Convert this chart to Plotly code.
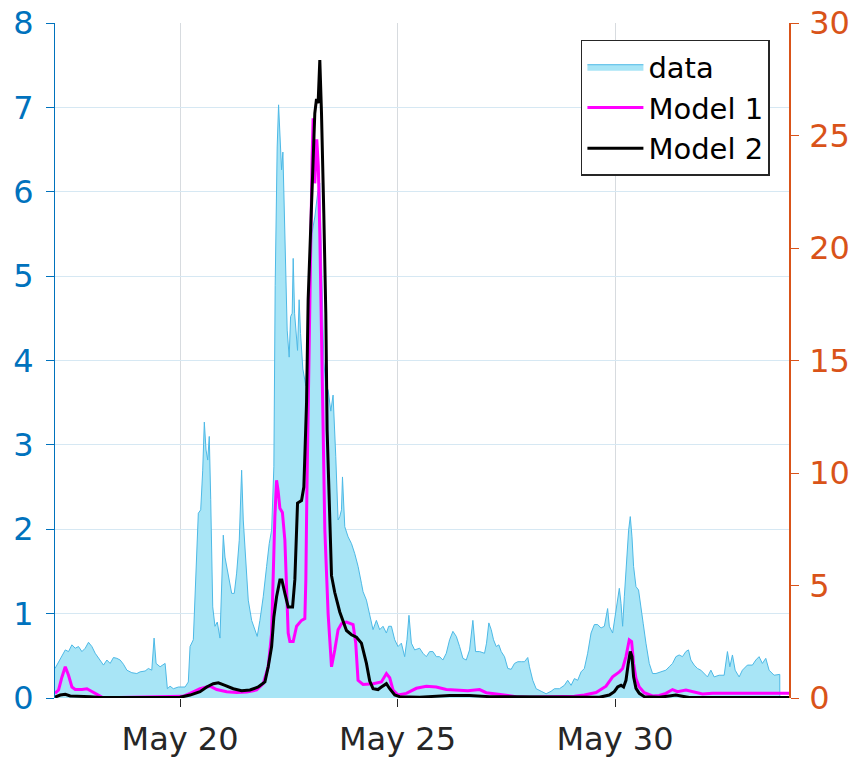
import pandas as pd
import plotly.graph_objects as go

base = pd.Timestamp("2020-05-20")

# data: days relative to May 20 00:00, values (left axis units)
data_day = [-2.875, -2.793, -2.639, -2.564, -2.486, -2.410, -2.334, -2.256, -2.180, -2.105,
            -2.027, -1.951, -1.875, -1.760, -1.682, -1.607, -1.531, -1.453, -1.377, -1.301,
            -1.223, -1.109, -0.994, -0.918, -0.803, -0.728, -0.650, -0.597, -0.551, -0.459,
            -0.344, -0.291, -0.230, -0.154, -0.039, 0.115, 0.190, 0.230, 0.305, 0.344,
            0.420, 0.475, 0.521, 0.558, 0.597, 0.636, 0.672, 0.705, 0.751, 0.803,
            0.856, 0.918, 0.957, 0.994, 1.033, 1.072, 1.132, 1.187, 1.246, 1.301,
            1.361, 1.416, 1.453, 1.508, 1.568, 1.646, 1.721, 1.774, 1.836, 1.912,
            1.990, 2.050, 2.105, 2.157, 2.187, 2.233, 2.265, 2.295, 2.334, 2.364,
            2.387, 2.426, 2.463, 2.509, 2.541, 2.578, 2.601, 2.633, 2.662, 2.701,
            2.738, 2.770, 2.823, 2.892, 2.961, 3.030, 3.098, 3.167, 3.213, 3.259,
            3.305, 3.351, 3.404, 3.466, 3.518, 3.580, 3.633, 3.672, 3.711, 3.734,
            3.787, 3.863, 3.941, 4.017, 4.093, 4.170, 4.207, 4.285, 4.361, 4.437,
            4.514, 4.590, 4.666, 4.744, 4.797, 4.859, 4.935, 5.011, 5.088, 5.164,
            5.217, 5.263, 5.318, 5.394, 5.508, 5.584, 5.662, 5.738, 5.814, 5.892,
            5.967, 6.043, 6.121, 6.197, 6.273, 6.351, 6.427, 6.503, 6.580, 6.656,
            6.732, 6.794, 6.886, 7.000, 7.046, 7.099, 7.154, 7.207, 7.269, 7.329,
            7.384, 7.459, 7.535, 7.613, 7.689, 7.765, 7.843, 7.918, 7.994, 8.033,
            8.109, 8.187, 8.302, 8.416, 8.531, 8.607, 8.722, 8.836, 8.912, 8.990,
            9.066, 9.142, 9.220, 9.295, 9.371, 9.449, 9.525, 9.601, 9.679, 9.755,
            9.830, 9.869, 9.945, 10.023, 10.099, 10.138, 10.175, 10.214, 10.267, 10.313,
            10.351, 10.390, 10.427, 10.482, 10.541, 10.596, 10.649, 10.711, 10.787, 10.863,
            10.941, 11.055, 11.170, 11.246, 11.322, 11.400, 11.475, 11.551, 11.629, 11.689,
            11.744, 11.820, 11.896, 11.974, 12.050, 12.126, 12.204, 12.279, 12.394, 12.509,
            12.585, 12.640, 12.700, 12.762, 12.854, 12.929, 13.044, 13.159, 13.237, 13.312,
            13.388, 13.466, 13.542, 13.657, 13.788, 13.789]
data_val = [0.35, 0.43, 0.57, 0.55, 0.63, 0.59, 0.61, 0.55, 0.59, 0.66,
            0.61, 0.53, 0.47, 0.39, 0.45, 0.41, 0.48, 0.47, 0.45, 0.40,
            0.33, 0.30, 0.29, 0.31, 0.32, 0.35, 0.33, 0.71, 0.41, 0.37,
            0.41, 0.11, 0.14, 0.11, 0.13, 0.13, 0.19, 0.61, 0.69, 1.24,
            2.19, 2.23, 2.70, 3.27, 2.94, 2.82, 3.10, 2.35, 1.08, 0.85,
            0.90, 0.71, 1.32, 1.93, 1.67, 1.56, 1.40, 1.24, 1.24, 1.48,
            1.87, 2.70, 2.11, 1.67, 1.16, 0.92, 0.81, 0.73, 0.92, 1.20,
            1.56, 1.83, 1.99, 2.74, 4.89, 6.53, 7.03, 6.75, 6.26, 6.47,
            5.98, 5.07, 4.36, 4.04, 4.52, 4.56, 5.21, 4.56, 4.32, 4.12,
            4.72, 4.32, 3.90, 3.70, 4.50, 5.50, 5.70, 6.00, 6.10, 5.20,
            4.00, 3.70, 3.65, 3.40, 3.59, 2.86, 2.11, 2.15, 2.23, 2.62,
            2.03, 1.91, 1.83, 1.71, 1.56, 1.36, 1.26, 1.16, 1.00, 0.81,
            0.92, 0.81, 0.85, 0.77, 0.85, 0.85, 0.69, 0.61, 0.65, 0.49,
            0.69, 0.98, 0.65, 0.57, 0.59, 0.53, 0.49, 0.55, 0.55, 0.49,
            0.49, 0.45, 0.53, 0.69, 0.79, 0.73, 0.61, 0.47, 0.45, 0.57,
            0.92, 0.55, 0.55, 0.53, 0.65, 0.89, 0.81, 0.69, 0.61, 0.63,
            0.55, 0.49, 0.35, 0.34, 0.41, 0.43, 0.43, 0.43, 0.48, 0.37,
            0.21, 0.11, 0.08, 0.05, 0.08, 0.11, 0.11, 0.15, 0.21, 0.15,
            0.23, 0.21, 0.31, 0.35, 0.53, 0.77, 0.87, 0.87, 0.83, 0.85,
            1.06, 0.85, 0.77, 1.04, 1.30, 1.12, 0.85, 1.20, 1.67, 1.99,
            2.15, 1.91, 1.56, 1.32, 1.28, 1.04, 0.88, 0.65, 0.41, 0.29,
            0.29, 0.31, 0.33, 0.37, 0.41, 0.49, 0.51, 0.49, 0.55, 0.57,
            0.45, 0.39, 0.35, 0.33, 0.29, 0.25, 0.33, 0.25, 0.27, 0.27,
            0.55, 0.37, 0.51, 0.33, 0.25, 0.33, 0.39, 0.39, 0.45, 0.49,
            0.41, 0.47, 0.33, 0.27, 0.28, 0.0]

# Model 1
m1_day = [-2.875, -2.793, -2.715, -2.639, -2.564, -2.486, -2.410, -2.256, -2.141, -2.027,
          -1.912, -1.797, -1.698, 0.062, 0.230, 0.459, 0.689, 0.842, 1.072, 1.301,
          1.531, 1.760, 1.912, 2.027, 2.105, 2.141, 2.180, 2.219, 2.256, 2.295,
          2.353, 2.410, 2.449, 2.486, 2.525, 2.601, 2.679, 2.793, 2.869, 2.892,
          2.915, 2.945, 2.972, 3.007, 3.036, 3.059, 3.098, 3.144, 3.179, 3.213,
          3.252, 3.289, 3.328, 3.404, 3.482, 3.557, 3.633, 3.711, 3.826, 3.978,
          4.039, 4.092, 4.207, 4.437, 4.629, 4.744, 4.820, 4.896, 5.011, 5.203,
          5.433, 5.662, 5.892, 6.121, 6.351, 6.617, 6.886, 7.039, 7.269, 7.498,
          7.728, 8.033, 8.722, 9.066, 9.295, 9.564, 9.793, 9.945, 10.099, 10.175,
          10.252, 10.328, 10.381, 10.427, 10.482, 10.558, 10.673, 10.863, 11.017, 11.170,
          11.322, 11.437, 11.630, 11.781, 12.011, 12.240, 14.000]
m1_val = [0.055, 0.095, 0.25, 0.37, 0.27, 0.13, 0.10, 0.10, 0.11, 0.075,
          0.035, 0.01, 0.004, 0.02, 0.055, 0.11, 0.14, 0.10, 0.075, 0.065,
          0.07, 0.095, 0.17, 0.37, 0.77, 1.56, 2.15, 2.58, 2.45, 2.25,
          2.20, 1.87, 1.32, 0.77, 0.67, 0.67, 0.85, 0.92, 0.94, 1.40,
          2.40, 3.50, 4.50, 5.60, 6.40, 6.87, 6.10, 6.62, 6.30, 5.50,
          4.20, 3.00, 2.00, 1.00, 0.37, 0.57, 0.81, 0.88, 0.90, 0.87,
          0.65, 0.21, 0.16, 0.17, 0.19, 0.29, 0.24, 0.095, 0.035, 0.055,
          0.115, 0.14, 0.13, 0.10, 0.095, 0.087, 0.10, 0.063, 0.047, 0.035,
          0.016, 0.01, 0.015, 0.02, 0.035, 0.065, 0.14, 0.25, 0.31, 0.35,
          0.49, 0.69, 0.67, 0.41, 0.23, 0.13, 0.063, 0.024, 0.03, 0.055,
          0.10, 0.075, 0.095, 0.075, 0.047, 0.055, 0.055]

# Model 2
m2_day = [-2.875, -2.754, -2.639, -2.525, -2.066, -1.836, 0.0, 0.230, 0.459, 0.613,
          0.764, 0.879, 1.033, 1.223, 1.416, 1.607, 1.797, 1.951, 2.027, 2.105,
          2.157, 2.219, 2.295, 2.341, 2.410, 2.486, 2.587, 2.639, 2.701, 2.793,
          2.846, 2.908, 2.945, 3.023, 3.098, 3.137, 3.174, 3.213, 3.252, 3.305,
          3.351, 3.381, 3.443, 3.482, 3.557, 3.672, 3.826, 3.941, 4.056, 4.170,
          4.285, 4.361, 4.437, 4.551, 4.629, 4.744, 4.820, 4.935, 5.049, 5.508,
          6.197, 6.656, 7.115, 8.722, 9.640, 9.869, 9.983, 10.060, 10.138, 10.197,
          10.252, 10.305, 10.351, 10.390, 10.427, 10.482, 10.558, 10.673, 11.017, 11.246,
          11.400, 11.515, 11.705, 14.000]
m2_val = [0.01, 0.035, 0.043, 0.024, 0.016, 0.006, 0.008, 0.035, 0.075, 0.13,
          0.17, 0.18, 0.15, 0.11, 0.087, 0.095, 0.13, 0.19, 0.37, 0.61,
          0.96, 1.20, 1.40, 1.40, 1.24, 1.08, 1.08, 1.40, 2.31, 2.34,
          2.50, 3.50, 4.72, 5.90, 6.93, 7.10, 7.05, 7.56, 6.93, 5.74,
          4.56, 3.18, 1.99, 1.45, 1.25, 1.02, 0.80, 0.75, 0.72, 0.65,
          0.41, 0.20, 0.11, 0.10, 0.13, 0.17, 0.11, 0.035, 0.016, 0.01,
          0.03, 0.03, 0.016, 0.008, 0.008, 0.035, 0.075, 0.13, 0.15, 0.13,
          0.21, 0.41, 0.55, 0.49, 0.25, 0.115, 0.055, 0.016, 0.008, 0.024,
          0.035, 0.024, 0.005, 0.005]

x_range_day = [-2.875, 14.0]
tick_days = [0, 5, 10]
tick_labels = ["May 20", "May 25", "May 30"]
left_range = [0, 8]
right_range = [0, 30]
left_ticks = [0, 1, 2, 3, 4, 5, 6, 7, 8]
right_ticks = [0, 5, 10, 15, 20, 25, 30]


def to_time(days):
    return [base + pd.Timedelta(days=d) for d in days]


BLUE = "rgb(0,114,189)"
ORANGE = "rgb(217,83,25)"
FONT = "DejaVu Sans"

fig = go.Figure()
fig.add_trace(go.Scatter(
    x=to_time(data_day), y=data_val, name="data", mode="lines",
    fill="tozeroy", line=dict(color="rgb(77,185,230)", width=1),
    fillcolor="rgb(168,229,246)"))
fig.add_trace(go.Scatter(
    x=to_time(m1_day), y=m1_val, name="Model 1", mode="lines",
    line=dict(color="#FF00FF", width=3)))
fig.add_trace(go.Scatter(
    x=to_time(m2_day), y=m2_val, name="Model 2", mode="lines",
    line=dict(color="black", width=3)))
fig.add_trace(go.Scatter(
    x=to_time([0]), y=[None], yaxis="y2", showlegend=False,
    hoverinfo="skip", mode="lines"))

fig.update_layout(
    width=856, height=762,
    margin=dict(l=55, r=67, t=23, b=64, autoexpand=False),
    paper_bgcolor="white", plot_bgcolor="white",
    font=dict(family=FONT, size=32, color="rgb(38,38,38)"),
    showlegend=True,
    legend=dict(x=0.974, y=0.975, xanchor="right", yanchor="top",
                bgcolor="white", bordercolor="rgb(38,38,38)", borderwidth=1.5,
                font=dict(family=FONT, size=29, color="black"),
                itemwidth=56, tracegroupgap=0),
    xaxis=dict(range=to_time(x_range_day), tickvals=to_time(tick_days),
               ticktext=tick_labels, ticks="outside", ticklen=8, tickwidth=1,
               tickcolor="rgb(38,38,38)", showgrid=True,
               gridcolor="rgb(215,219,223)", gridwidth=1,
               showline=False, zeroline=False, ticklabelstandoff=5,
               ticklabeloverflow="allow",
               tickfont=dict(family=FONT, size=32, color="rgb(38,38,38)")),
    yaxis=dict(range=left_range, tickvals=left_ticks, ticks="outside",
               ticklen=8, tickwidth=1, tickcolor=BLUE, showline=True,
               linecolor=BLUE, linewidth=1, showgrid=True,
               gridcolor="rgb(214,232,243)", gridwidth=1, zeroline=False,
               ticklabeloverflow="allow",
               tickfont=dict(family=FONT, size=32, color=BLUE),
               ticklabelstandoff=6),
    yaxis2=dict(range=right_range, tickvals=right_ticks, overlaying="y",
                side="right", ticks="outside", ticklen=8, tickwidth=1,
                tickcolor=ORANGE, showline=True, linecolor=ORANGE,
                linewidth=1.5, showgrid=False, zeroline=False,
                ticklabeloverflow="allow",
                tickfont=dict(family=FONT, size=32, color=ORANGE),
                ticklabelstandoff=4),
)

fig.write_html(
    "out.html",
    config={"displayModeBar": False},
    post_script="document.body.style.margin='0px';document.body.style.overflow='hidden';",
)
